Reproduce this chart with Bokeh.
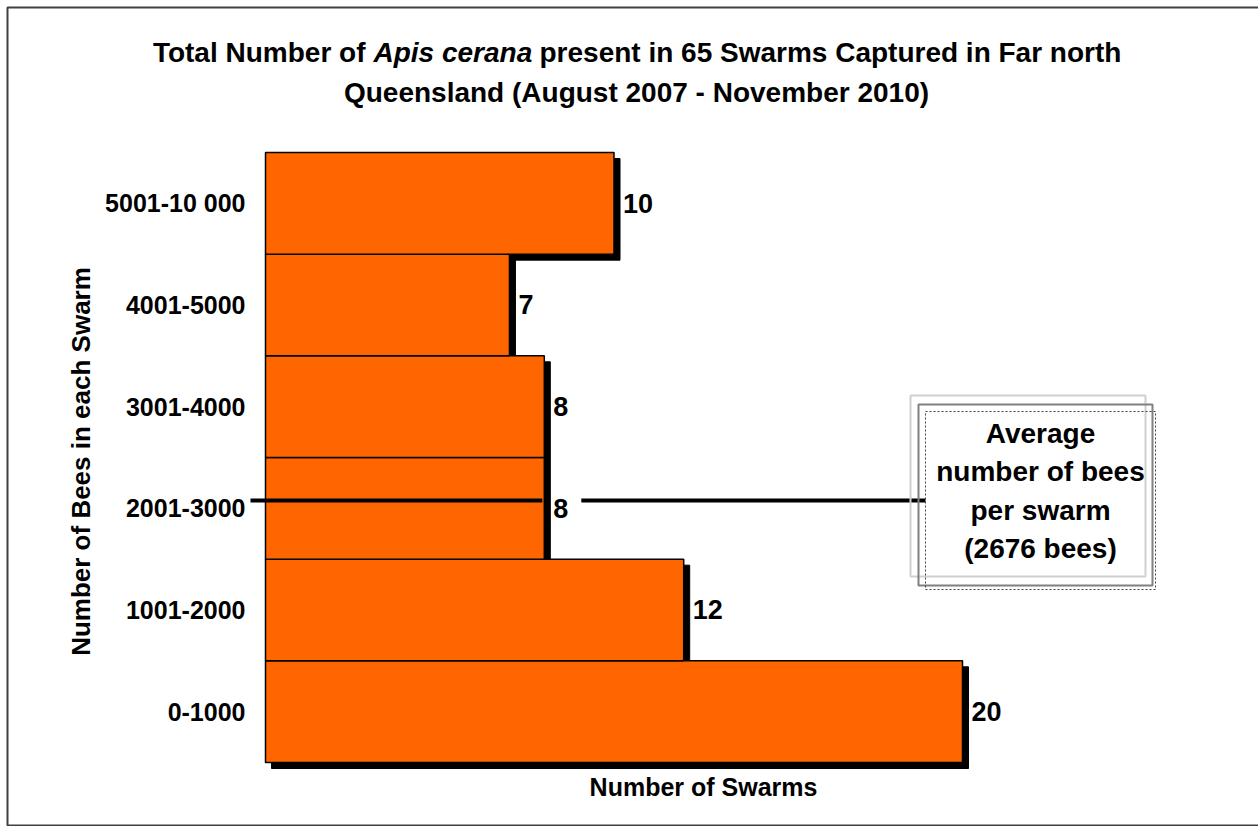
import math
from bokeh.plotting import figure
from bokeh.models import ColumnDataSource, LabelSet, Label, Range1d
from bokeh.core.properties import value
from bokeh.embed import file_html
from bokeh.resources import INLINE

# ---- data ----
categories = ["0-1000", "1001-2000", "2001-3000", "3001-4000", "4001-5000", "5001-10 000"]
swarms = [20, 12, 8, 8, 7, 10]
avg_bees = 2676
avg_category = 2            # index of the category holding the average (2001-3000)
avg_line_y = 2.577          # position of the average line on the category axis
title_a = "Total Number of"
title_b = "Apis cerana"
title_c = "present in 65 Swarms Captured in Far north"
title_2 = "Queensland (August 2007 - November 2010)"
y_title = "Number of Bees in each Swarm"
x_title = "Number of Swarms"
box_lines = ["Average", "number of bees", "per swarm", f"({avg_bees} bees)"]

W, H = 1258, 826
FONT = "Liberation Sans"
X0, Y0 = 265, 762             # pixel position of the data origin
PXX, PXY = 34.85, 101.67      # pixels per unit (x, y)


def dx(px):
    return (px - X0) / PXX


def dy(py):
    return (Y0 - py) / PXY


p = figure(width=W, height=H, output_backend="svg", toolbar_location=None,
           x_range=Range1d(dx(0), dx(W)), y_range=Range1d(dy(H), dy(0)),
           min_border=0, x_axis_type=None, y_axis_type=None)
p.outline_line_color = None
p.grid.visible = False

ypos = [i + 0.5 for i in range(len(categories))]
sx, sy = 6 / PXX, 6 / PXY   # shadow offset
src = ColumnDataSource(dict(
    y=ypos, v=swarms, lab=[str(s) for s in swarms], cat=categories,
    top=[y + 0.5 for y in ypos], bot=[y - 0.5 for y in ypos],
    stop=[y + 0.5 - sy for y in ypos], sbot=[y - 0.5 - sy for y in ypos],
    sleft=[sx] * len(ypos), sright=[v + sx for v in swarms], left=[0] * len(ypos)))

# outer frame of the chart area
p.quad(left=[dx(7)], right=[dx(W + 6)], top=[dy(7)], bottom=[dy(825)], fill_color=None,
       line_color="#404040", line_width=2)

# shadows
p.quad(left="sleft", right="sright", top="stop", bottom="sbot", source=src,
       fill_color="black", line_color="black")
# bars
p.quad(left="left", right="v", top="top", bottom="bot", source=src,
       fill_color="#FF6600", line_color="black", line_width=1.5)

# average line (broken around the value label of its bar)
p.segment(x0=[dx(250), swarms[avg_category] + 37 / PXX], x1=[swarms[avg_category] - 2 / PXX, dx(925)],
          y0=[avg_line_y] * 2, y1=[avg_line_y] * 2, line_color="black", line_width=4)

# annotation box
p.quad(left=[dx(910)], right=[dx(1145)], top=[dy(395)], bottom=[dy(576)], fill_color=None,
       line_color="#D0D0D0", line_width=2)
p.quad(left=[dx(918)], right=[dx(1152)], top=[dy(404)], bottom=[dy(585)], fill_color=None,
       line_color="#808080", line_width=2)
p.quad(left=[dx(925)], right=[dx(1155)], top=[dy(411)], bottom=[dy(589)], fill_color=None,
       line_color="#404040", line_width=1, line_dash="2 2")
for txt, yy in zip(box_lines, [433, 471, 510, 548]):
    p.add_layout(Label(x=dx(1040), y=dy(yy), text=txt, text_align="center", text_baseline="middle",
                       text_font=FONT, text_font_style="bold", text_font_size="28px", text_color="black"))

# value labels
p.add_layout(LabelSet(x="v", y="y", text="lab", source=src, x_offset=9, text_baseline="middle",
                      text_font=value(FONT), text_font_style="bold", text_font_size="27px",
                      text_color="black"))

# category (tick) labels
p.add_layout(LabelSet(x=dx(245), y="y", text="cat", source=src, text_align="right", text_baseline="middle",
                      text_font=value(FONT), text_font_style="bold", text_font_size="25px",
                      text_color="black"))

# axis titles
p.add_layout(Label(x=dx(80), y=dy(461), text=y_title, angle=math.pi / 2, text_align="center",
                   text_baseline="middle", text_font=FONT, text_font_style="bold",
                   text_font_size="26px", text_color="black"))
p.add_layout(Label(x=dx(703), y=dy(786), text=x_title, text_align="center",
                   text_baseline="middle", text_font=FONT, text_font_style="bold",
                   text_font_size="25px", text_color="black"))

# title
for txt, xx, al, st in [(title_a, 365, "right", "bold"), (title_b, 373, "left", "bold italic"),
                        (title_c, 539, "left", "bold")]:
    p.add_layout(Label(x=dx(xx), y=dy(52), text=txt, text_align=al, text_baseline="middle",
                       text_font=FONT, text_font_style=st, text_font_size="28px", text_color="black"))
p.add_layout(Label(x=dx(636), y=dy(92), text=title_2, text_align="center", text_baseline="middle",
                   text_font=FONT, text_font_style="bold", text_font_size="28px", text_color="black"))

open("out.html", "w").write(file_html(p, INLINE))
